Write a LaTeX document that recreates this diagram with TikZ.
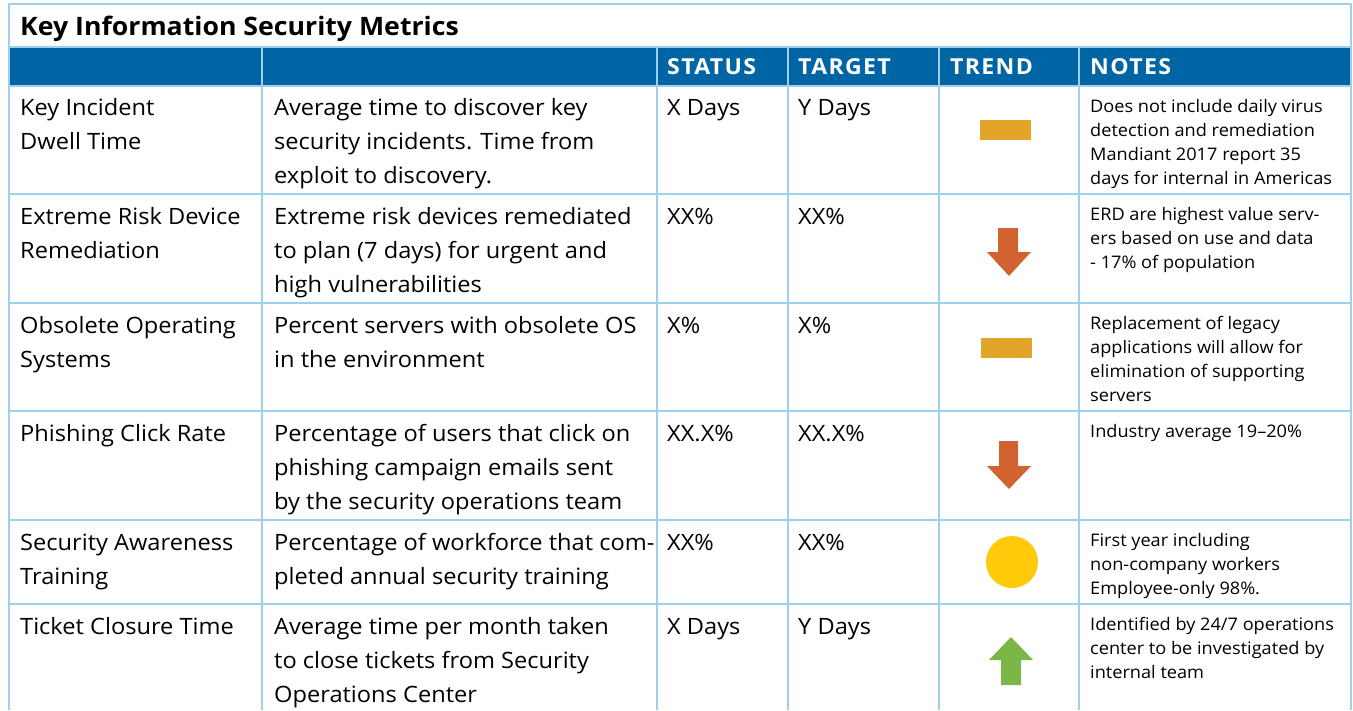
\documentclass[tikz,border=0pt]{standalone}
\usepackage{fontspec}
\setmainfont{Open Sans}[FakeStretch=1.05]
\newfontfamily\headfont{Open Sans}[FakeStretch=1.05, LetterSpace=6]
\usepackage{tikz}

\definecolor{bandblue}{RGB}{0,101,164}
\definecolor{gridblue}{RGB}{158,208,238}
\definecolor{flatgold}{RGB}{226,165,42}
\definecolor{downred}{RGB}{210,98,48}
\definecolor{dotyellow}{RGB}{255,202,10}
\definecolor{upgreen}{RGB}{122,182,72}
\newcommand\firstline{\rule{0pt}{0.9em}}

\begin{document}
\begin{tikzpicture}[x=1pt,y=-1pt,
	cell/.style={anchor=north west, inner sep=0pt, align=left, font=\fontsize{22.5}{34}\selectfont},
	note/.style={anchor=north west, inner sep=0pt, align=left, font=\fontsize{17.3}{24}\selectfont},
	head/.style={anchor=base west, inner sep=0pt, text=white, font=\fontsize{22}{26}\selectfont\headfont\bfseries},
	grid/.style={draw=gridblue, line width=1.6pt}]
	\useasboundingbox (0,0) rectangle (1353,710);
	\fill[white] (0,0) rectangle (1353,710);

	\fill[bandblue] (9,47) rectangle (1351,86); % header band
	\draw[grid] (9,710) -- (9,4) -- (1351,4) -- (1351,710);
	\draw[grid] (9,47) -- (1351,47);
	\foreach \y in {86,194,303,411,520,604} \draw[grid] (9,\y) -- (1351,\y);
	\foreach \x in {262,657,788,939,1079} \draw[grid] (\x,47) -- (\x,710);

	\node[anchor=base west, inner sep=0pt, font=\fontsize{25.4}{28}\selectfont\bfseries] (title) at (20,35.5) {Key Information Security Metrics};
	\node[head] (hstatus) at (667,74) {STATUS};
	\node[head] (htarget) at (798,74) {TARGET};
	\node[head] (htrend) at (950,74) {TREND};
	\node[head] (hnotes) at (1090,74) {NOTES};

	% row 1
	\node[cell] (name1) at (20,95) {\firstline Key Incident\\Dwell Time};
	\node[cell] (desc1) at (274,95) {\firstline Average time to discover key\\security incidents. Time from\\exploit to discovery.};
	\node[cell] (stat1) at (667,95) {\firstline X Days};
	\node[cell] (targ1) at (798,95) {\firstline Y Days};
	\node[note] (note1) at (1090,96.4) {\firstline Does not include daily virus\\detection and remediation\\Mandiant 2017 report 35\\days for internal in Americas};
	\fill[flatgold] (980,120) rectangle (1031,140);

	% row 2
	\node[cell] (name2) at (20,203.8) {\firstline Extreme Risk Device\\Remediation};
	\node[cell] (desc2) at (274,203.8) {\firstline Extreme risk devices remediated\\to plan (7 days) for urgent and\\high vulnerabilities};
	\node[cell] (stat2) at (667,203.8) {\firstline XX\%};
	\node[cell] (targ2) at (798,203.8) {\firstline XX\%};
	\node[note] (note2) at (1090,204.4) {\firstline ERD are highest value serv-\\ers based on use and data\\- 17\% of population};
	\fill[downred] (998,228) -- (1018,228) -- (1018,252) -- (1031,252) -- (1009,276) -- (987,252) -- (998,252) -- cycle;

	% row 3
	\node[cell] (name3) at (20,312.8) {\firstline Obsolete Operating\\Systems};
	\node[cell] (desc3) at (274,312.8) {\firstline Percent servers with obsolete OS\\in the environment};
	\node[cell] (stat3) at (667,312.8) {\firstline X\%};
	\node[cell] (targ3) at (798,312.8) {\firstline X\%};
	\node[note] (note3) at (1090,313.4) {\firstline Replacement of legacy\\applications will allow for\\elimination of supporting\\servers};
	\fill[flatgold] (981,338) rectangle (1032,358);

	% row 4
	\node[cell] (name4) at (20,420.8) {\firstline Phishing Click Rate};
	\node[cell] (desc4) at (274,420.8) {\firstline Percentage of users that click on\\phishing campaign emails sent\\by the security operations team};
	\node[cell] (stat4) at (667,420.8) {\firstline XX.X\%};
	\node[cell] (targ4) at (798,420.8) {\firstline XX.X\%};
	\node[note] (note4) at (1090,421.4) {\firstline Industry average 19--20\%};
	\fill[downred] (999,441) -- (1018,441) -- (1018,466) -- (1031,466) -- (1009,489) -- (987,466) -- (999,466) -- cycle;

	% row 5
	\node[cell] (name5) at (20,529.8) {\firstline Security Awareness\\Training};
	\node[cell] (desc5) at (274,529.8) {\firstline Percentage of workforce that com-\\pleted annual security training};
	\node[cell] (stat5) at (667,529.8) {\firstline XX\%};
	\node[cell] (targ5) at (798,529.8) {\firstline XX\%};
	\node[note] (note5) at (1090,530.4) {\firstline First year including\\non-company workers\\Employee-only 98\%.};
	\fill[dotyellow] (1012,562) circle (26);

	% row 6
	\node[cell] (name6) at (20,613.8) {\firstline Ticket Closure Time};
	\node[cell] (desc6) at (274,613.8) {\firstline Average time per month taken\\to close tickets from Security\\Operations Center};
	\node[cell] (stat6) at (667,613.8) {\firstline X Days};
	\node[cell] (targ6) at (798,613.8) {\firstline Y Days};
	\node[note] (note6) at (1090,614.4) {\firstline Identified by 24/7 operations\\center to be investigated by\\internal team};
	\fill[upgreen] (1001,685) -- (1021,685) -- (1021,660) -- (1033,660) -- (1011,637) -- (989,660) -- (1001,660) -- cycle;
\end{tikzpicture}
\end{document}
